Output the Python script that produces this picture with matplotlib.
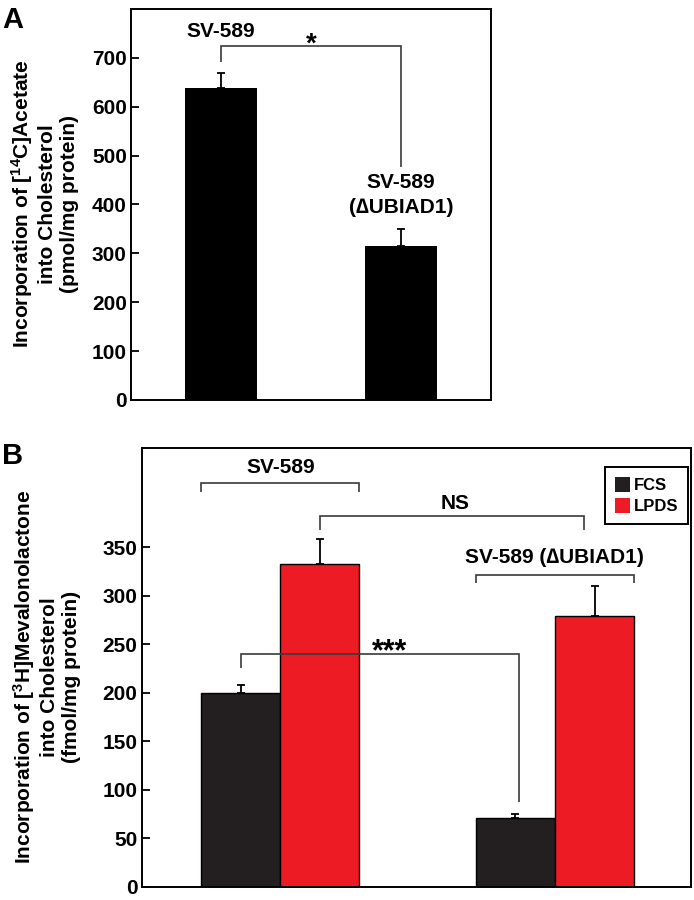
import matplotlib.pyplot as plt

plt.rcParams['font.family'] = ['Liberation Sans', 'DejaVu Sans']
plt.rcParams['font.weight'] = 'bold'
plt.rcParams['mathtext.fontset'] = 'custom'
plt.rcParams['mathtext.rm'] = 'Liberation Sans:bold'
plt.rcParams['mathtext.default'] = 'rm'

# panel A data
a_groups = ['SV-589', '(\u2206UBIAD1)']
a_values = [638, 315]
a_errors = [32, 35]
a_ticks = [0, 100, 200, 300, 400, 500, 600, 700]

# panel B data
b_series = ['FCS', 'LPDS']
b_fcs = [200, 71]
b_fcs_err = [8, 4]
b_lpds = [332, 279]
b_lpds_err = [26, 31]
b_ticks = [0, 50, 100, 150, 200, 250, 300, 350]

BLACK = '#231f20'
RED = '#ed1c24'
LINE = '#3a3a3a'


def bracket(ax, xs, ys):
    ax.plot(xs, ys, color=LINE, lw=1.2, solid_joinstyle='miter',
            solid_capstyle='butt', zorder=4)


def style_axis(ax, ticks, top):
    ax.set_ylim(0, top)
    ax.set_yticks(ticks)
    ax.set_xticks([])
    ax.tick_params(axis='y', direction='in', length=6, width=1.3,
                   labelsize=15, pad=3)
    for s in ax.spines.values():
        s.set_linewidth(1.4)


fig = plt.figure(figsize=(6.94, 9), dpi=100)

# ---------------- panel A ----------------
axA = fig.add_axes([0.1888, 0.5556, 0.5187, 0.4344])
xa = [1, 3]
axA.bar(xa, a_values, width=0.8, color='black', zorder=2)
axA.errorbar(xa, a_values, yerr=[[0, 0], a_errors], fmt='none',
             ecolor='black', elinewidth=1.3, capsize=3, capthick=1.3,
             zorder=3)
axA.set_xlim(0, 4)
style_axis(axA, a_ticks, 800)

bracket(axA, [1, 1, 3, 3], [692, 724, 724, 477])
axA.text(2.0, 713, '*', ha='center', va='baseline', fontsize=20)
axA.text(1, 743, a_groups[0], ha='center', va='baseline', fontsize=15)
axA.text(3, 433, a_groups[0], ha='center', va='baseline', fontsize=15)
axA.text(3, 382, a_groups[1], ha='center', va='baseline', fontsize=15)

fig.text(44 / 694, 1 - 204 / 900,
         'Incorporation of [$^{14}$C]Acetate\ninto Cholesterol\n(pmol/mg protein)',
         rotation=90, ha='center', va='center', multialignment='center',
         fontsize=15, linespacing=1.2)
fig.text(0.003, 1 - 6 / 900, 'A', ha='left', va='top', fontsize=21)

# ---------------- panel B ----------------
axB = fig.add_axes([0.2042, 0.0148, 0.7915, 0.4874])
g = [1.754, 5.229]
xb_fcs = [c - 0.5 for c in g]
xb_lpds = [c + 0.5 for c in g]
axB.bar(xb_fcs, b_fcs, width=1.0, color=BLACK, edgecolor='black',
        linewidth=1, zorder=2, label=b_series[0])
axB.bar(xb_lpds, b_lpds, width=1.0, color=RED, edgecolor='black',
        linewidth=1, zorder=2, label=b_series[1])
axB.errorbar(xb_fcs, b_fcs, yerr=[[0, 0], b_fcs_err], fmt='none',
             ecolor='black', elinewidth=1.3, capsize=3, capthick=1.3, zorder=3)
axB.errorbar(xb_lpds, b_lpds, yerr=[[0, 0], b_lpds_err], fmt='none',
             ecolor='black', elinewidth=1.3, capsize=3, capthick=1.3, zorder=3)
axB.set_xlim(0, 6.95)
style_axis(axB, b_ticks, 452)

# SV-589 group
bracket(axB, [g[0] - 1, g[0] - 1, g[0] + 1, g[0] + 1], [407, 416, 416, 407])
axB.text(g[0], 426, 'SV-589', ha='center', va='baseline', fontsize=15)
# SV-589 (dUBIAD1) group
bracket(axB, [g[1] - 1, g[1] - 1, g[1] + 1, g[1] + 1], [313, 320.7, 320.7, 313])
axB.text(g[1] - 0.01, 334, 'SV-589 (\u2206UBIAD1)', ha='center', va='baseline',
         fontsize=15)
# NS
bracket(axB, [g[0] + 0.5, g[0] + 0.5, g[1] + 0.37, g[1] + 0.37],
        [368, 382, 382, 368])
axB.text(3.967, 389, 'NS', ha='center', va='baseline', fontsize=15)
# ***
bracket(axB, [g[0] - 0.5, g[0] - 0.5, g[1] - 0.46, g[1] - 0.46],
        [225, 240, 240, 87.7])
axB.text(3.136, 233, '***', ha='center', va='baseline', fontsize=22)

leg = axB.legend(loc='upper right', bbox_to_anchor=(0.995, 0.957),
                 fontsize=12, handlelength=0.95, handleheight=1.0,
                 handletextpad=0.2, borderpad=0.6, labelspacing=0.3,
                 fancybox=False, framealpha=1, edgecolor='black',
                 borderaxespad=0)
leg.get_frame().set_linewidth(1.4)
for h in leg.legend_handles:
    h.set_edgecolor('none')

fig.text(46 / 694, 1 - 677 / 900,
         'Incorporation of [$^{3}$H]Mevalonolactone\ninto Cholesterol\n(fmol/mg protein)',
         rotation=90, ha='center', va='center', multialignment='center',
         fontsize=15, linespacing=1.2)
fig.text(0.003, 1 - 442 / 900, 'B', ha='left', va='top', fontsize=21)

fig.savefig('out.png', dpi=100)
